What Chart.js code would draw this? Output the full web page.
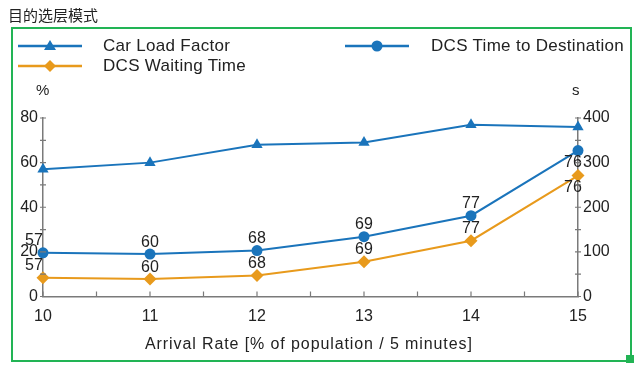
<!DOCTYPE html>
<html>
<head>
<meta charset="utf-8">
<script src="https://cdn.jsdelivr.net/npm/chart.js@4.4.1/dist/chart.umd.min.js"></script>
<style>
  html, body { margin: 0; padding: 0; background: #ffffff; }
  body { width: 644px; height: 374px; position: relative; overflow: hidden; font-family: "Liberation Sans", Arial, sans-serif; color: #222; }
  #wrap { position: absolute; left: 0; top: 0; width: 644px; height: 374px; }
  .abs { position: absolute; white-space: nowrap; }
  #title { left: 8px; top: 4px; font-size: 15px; font-family: "Noto Sans CJK SC", sans-serif; color: #222; }
  #frame { left: 11px; top: 27px; width: 617px; height: 331px; border: 2px solid #22b455; }
  #corner { left: 626px; top: 355px; width: 8px; height: 8px; background: #22b455; }
  .leg { font-size: 17px; line-height: 20px; letter-spacing: 0.3px; }
  .axtitle { font-size: 15px; }
  #xtitle { font-size: 16px; letter-spacing: 0.9px; }
</style>
</head>
<body>
<div id="wrap"><canvas id="chart" width="644" height="374"></canvas></div>
<div class="abs" id="frame"></div>
<div class="abs" id="corner"></div>
<div class="abs" id="title">目的选层模式</div>

<svg class="abs" style="left:16px;top:36px" width="70" height="40">
  <line x1="2" y1="10" x2="66" y2="10" stroke="#1a74bb" stroke-width="2.5"/>
  <polygon points="34,4 40,14 28,14" fill="#1a74bb"/>
  <line x1="2" y1="30" x2="66" y2="30" stroke="#e89a1c" stroke-width="2.5"/>
  <polygon points="34,24 40,30 34,36 28,30" fill="#e89a1c"/>
</svg>
<svg class="abs" style="left:343px;top:36px" width="70" height="20">
  <line x1="2" y1="10" x2="66" y2="10" stroke="#1a74bb" stroke-width="2.5"/>
  <circle cx="34" cy="10" r="5.5" fill="#1a74bb"/>
</svg>
<div class="abs leg" style="left:103px;top:36px">Car Load Factor</div>
<div class="abs leg" style="left:103px;top:56px">DCS Waiting Time</div>
<div class="abs leg" style="left:431px;top:36px">DCS Time to Destination</div>

<div class="abs axtitle" style="left:36px;top:81px">%</div>
<div class="abs axtitle" style="left:572px;top:81px">s</div>
<div class="abs" id="xtitle" style="left:145px;top:335px">Arrival Rate [% of population / 5 minutes]</div>

<script>
const arrivalRates = [10, 11, 12, 13, 14, 15];
const carLoadFactor = [57, 60, 68, 69, 77, 76];
const dcsTimeToDestination = [98, 95, 103, 134, 181, 327];
const dcsWaitingTime = [42, 39, 47, 78, 125, 271];

const blue = "#1a74bb";
const orange = "#e89a1c";
const axisColor = "#7a7a7a";

function points(values) {
  return arrivalRates.map((x, i) => ({ x: x, y: values[i] }));
}

// car load factor values are printed over the two time series (as in the source picture)
const pointLabels = {
  id: "pointLabels",
  afterDatasetsDraw(chart) {
    const ctx = chart.ctx;
    ctx.save();
    ctx.font = "16px 'Liberation Sans', Arial, sans-serif";
    ctx.fillStyle = "#222";
    ctx.textAlign = "center";
    ctx.textBaseline = "middle";
    [1, 2].forEach((dsIndex) => {
      const meta = chart.getDatasetMeta(dsIndex);
      meta.data.forEach((pt, i) => {
        let dx = 0;
        let dy = -12;
        if (i === 0) dx = -9;
        if (i === meta.data.length - 1) { dx = -5; dy = 12; }
        ctx.fillText(String(carLoadFactor[i]), pt.x + dx, pt.y + dy);
      });
    });
    ctx.restore();
  },
};

// small tick marks: inward on the x axis, crossing the axis line on both y axes
const tickMarks = {
  id: "tickMarks",
  afterDraw(chart) {
    const ctx = chart.ctx;
    const area = chart.chartArea;
    ctx.save();
    ctx.strokeStyle = axisColor;
    ctx.lineWidth = 1.2;
    ctx.beginPath();
    chart.scales.x.ticks.forEach((t) => {
      const x = chart.scales.x.getPixelForValue(t.value);
      ctx.moveTo(x, area.bottom);
      ctx.lineTo(x, area.bottom - 5);
    });
    chart.scales.yLeft.ticks.forEach((t) => {
      const y = chart.scales.yLeft.getPixelForValue(t.value);
      ctx.moveTo(area.left - 3, y);
      ctx.lineTo(area.left + 3, y);
    });
    chart.scales.yRight.ticks.forEach((t) => {
      const y = chart.scales.yRight.getPixelForValue(t.value);
      ctx.moveTo(area.right - 3, y);
      ctx.lineTo(area.right + 3, y);
    });
    ctx.stroke();
    ctx.restore();
  },
};

const tickLabelFont = { family: "'Liberation Sans', Arial, sans-serif", size: 16 };
const hiddenGrid = (len) => ({ drawOnChartArea: false, drawTicks: true, tickLength: len, color: "rgba(0,0,0,0)" });

new Chart(document.querySelector("#chart"), {
  type: "line",
  data: {
    datasets: [
      {
        label: "Car Load Factor",
        data: points(carLoadFactor),
        yAxisID: "yLeft",
        borderColor: blue,
        backgroundColor: blue,
        borderWidth: 2,
        pointStyle: "triangle",
        pointRadius: 6.5,
        pointBorderWidth: 0,
        clip: false,
      },
      {
        label: "DCS Time to Destination",
        data: points(dcsTimeToDestination),
        yAxisID: "yRight",
        borderColor: blue,
        backgroundColor: blue,
        borderWidth: 2,
        pointStyle: "circle",
        pointRadius: 5.5,
        pointBorderWidth: 0,
        clip: false,
      },
      {
        label: "DCS Waiting Time",
        data: points(dcsWaitingTime),
        yAxisID: "yRight",
        borderColor: orange,
        backgroundColor: orange,
        borderWidth: 2,
        pointStyle: "rectRot",
        pointRadius: 6.5,
        pointBorderWidth: 0,
        clip: false,
      },
    ],
  },
  options: {
    responsive: false,
    animation: false,
    layout: { padding: { top: 118, bottom: 0, left: 0, right: 0 } },
    plugins: { legend: { display: false }, tooltip: { enabled: false } },
    scales: {
      x: {
        type: "linear",
        min: 10,
        max: 15,
        afterFit(scale) { scale.height = 77.5; },
        border: { display: true, color: axisColor, width: 1.5 },
        grid: hiddenGrid(5),
        ticks: {
          stepSize: 0.5,
          color: "#222",
          font: tickLabelFont,
          padding: 5,
          maxRotation: 0,
          autoSkip: false,
          callback: (v) => (Number.isInteger(v) ? String(v) : ""),
        },
      },
      yLeft: {
        position: "left",
        min: 0,
        max: 80,
        afterFit(scale) { scale.width = 43; },
        border: { display: true, color: axisColor, width: 1.5 },
        grid: hiddenGrid(4),
        ticks: {
          stepSize: 10,
          color: "#222",
          font: tickLabelFont,
          padding: 1,
          autoSkip: false,
          callback: (v) => (v % 20 === 0 ? String(v) : ""),
        },
      },
      yRight: {
        position: "right",
        min: 0,
        max: 400,
        afterFit(scale) { scale.width = 66; },
        border: { display: true, color: axisColor, width: 1.5 },
        grid: hiddenGrid(4),
        ticks: {
          stepSize: 50,
          color: "#222",
          font: tickLabelFont,
          padding: 1,
          autoSkip: false,
          callback: (v) => (v % 100 === 0 ? String(v) : ""),
        },
      },
    },
  },
  plugins: [pointLabels, tickMarks],
});
</script>
</body>
</html>
